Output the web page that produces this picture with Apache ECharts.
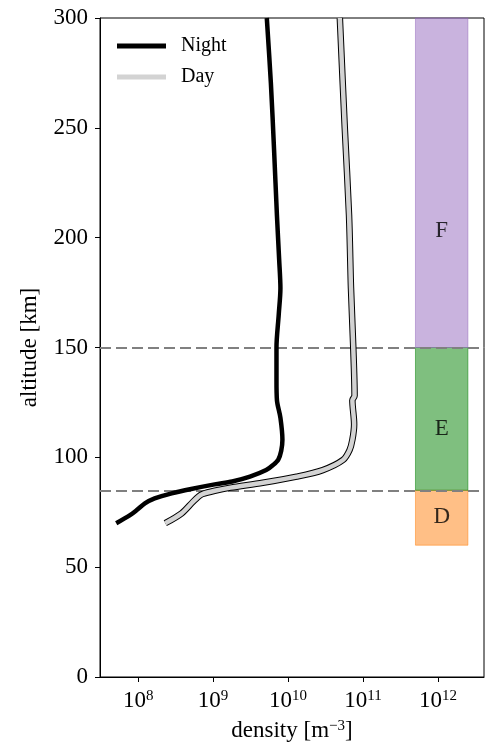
<!DOCTYPE html>
<html><head><meta charset="utf-8">
<script src="https://cdn.jsdelivr.net/npm/echarts@6/dist/echarts.min.js"></script>
<style>html,body{margin:0;padding:0;background:#fff}#c{width:485px;height:747px}</style>
</head><body><div id="c"></div>
<script>
// Night profile
const nightAlt = [300,270,240,210,190,177,165,150,135,126,118,108,103,99,96.5,94.2,91.2,89,87.7,85.6,83.6,81.3,79,76,73.7,70];
const nightDensity = [5.2e9,5.9e9,6.5e9,7.1e9,7.6e9,7.9e9,7.5e9,7.0e9,7.0e9,7.1e9,7.9e9,8.4e9,8.1e9,7.4e9,6.3e9,5.1e9,3.1e9,1.8e9,1.05e9,5.1e8,2.8e8,1.66e8,1.23e8,9.6e7,7.8e7,5.1e7];
// Day profile
const dayAlt = [300,250,210,177,150,128,126,115,108,103.3,98.8,94.2,91.2,88.4,86.2,84.8,83.3,82.2,79.8,74.5,70];
const dayDensity = [4.9e10,5.7e10,6.5e10,6.9e10,7.4e10,7.7e10,7.2e10,7.6e10,7.2e10,6.6e10,5.4e10,2.9e10,1.3e10,4.6e9,1.7e9,1.05e9,7.2e8,6.4e8,5.4e8,3.8e8,2.3e8];
// Ionospheric regions
const regionNames = ['D','E','F'];
const regionBottom = [60,85,150];
const regionTop = [85,150,300];
const regionLabelAlt = [73,113,203];
const regionLeft = 5e11, regionRight = 2.5e12, regionCenter = 1.12e12;
const regionColors = ['rgba(255,127,14,0.5)','rgba(0,128,0,0.5)','rgba(148,103,189,0.5)'];
const boundaryAlt = [85,150];
// Axis ticks
const xTickValues = [1e8,1e9,1e10,1e11,1e12];
const xTickExp = ['8','9','10','11','12'];

const FONT = 'Liberation Serif';
const chart = echarts.init(document.getElementById('c'));
const zip = (xs, ys) => xs.map((x,i)=>[x, ys[i]]);

chart.setOption({
  animation:false,
  backgroundColor:'#fff',
  grid:{left:100,right:1,top:18,bottom:70,show:true,borderColor:'#000',borderWidth:1},
  legend:{
    data:[{name:'Night',icon:'rect'},{name:'Day',icon:'rect'}],
    orient:'vertical', left:117, top:36, padding:0, itemWidth:49, itemHeight:5, itemGap:11,
    textStyle:{fontFamily:FONT,fontSize:20,color:'#000',padding:[0,0,0,10]}
  },
  xAxis:{
    type:'log', logBase:10, min:3.1e7, max:4.1e12,
    axisLine:{show:true,lineStyle:{color:'#000',width:1}},
    splitLine:{show:false}, minorTick:{show:false},
    axisTick:{show:true,inside:false,length:5,lineStyle:{color:'#000'},customValues:xTickValues},
    axisLabel:{customValues:xTickValues,margin:12,color:'#000',
      formatter:function(v){
        let idx = xTickValues.findIndex(t=>Math.abs(t-v)/t<1e-6);
        if(idx<0) return '';
        return '{b|10}{s|'+xTickExp[idx]+'}';
      },
      rich:{b:{fontFamily:FONT,fontSize:23,color:'#000'},s:{fontFamily:FONT,fontSize:15,color:'#000',verticalAlign:'top'}}
    },
    name:'{a|density [m}{s|−3}{a|]}', nameLocation:'middle', nameGap:42,
    nameTextStyle:{rich:{a:{fontFamily:FONT,fontSize:23,color:'#000'},s:{fontFamily:FONT,fontSize:15,color:'#000',verticalAlign:'top'}}}
  },
  yAxis:{
    type:'value', min:0, max:300, interval:50,
    axisLine:{show:true,lineStyle:{color:'#000',width:1}},
    splitLine:{show:false},
    axisTick:{show:true,inside:false,length:5,lineStyle:{color:'#000'}},
    axisLabel:{fontFamily:FONT,fontSize:23,color:'#000',margin:12},
    name:'altitude [km]', nameLocation:'middle', nameGap:59, nameRotate:90,
    nameTextStyle:{fontFamily:FONT,fontSize:23,color:'#000'}
  },
  series:[
    {
      name:'regions', type:'scatter', z:1, silent:true, symbolSize:0,
      data: regionNames.map((n,i)=>({name:n,value:[regionCenter,regionLabelAlt[i]]})),
      label:{show:true,position:'inside',formatter:'{b}',fontFamily:FONT,fontSize:23,color:'#000'},
      markArea:{silent:true,
        data: regionNames.map((n,i)=>[
          {xAxis:regionLeft,yAxis:regionBottom[i],itemStyle:{color:regionColors[i],borderColor:regionColors[i],borderWidth:1}},
          {xAxis:regionRight,yAxis:regionTop[i]}
        ])
      }
    },
    {
      name:'boundaries', type:'line', z:3, data:[], silent:true,
      markLine:{silent:true,symbol:['none','none'],label:{show:false},
        lineStyle:{color:'#808080',type:[11,5],width:2},
        data: boundaryAlt.map(a=>({yAxis:a}))
      }
    },
    {name:'Night',type:'line',z:5,data:zip(nightDensity,nightAlt),showSymbol:false,smooth:0.3,
      color:'#000',lineStyle:{color:'#000',width:4.5}},
    {name:'DayEdge',type:'line',z:6,data:zip(dayDensity,dayAlt),showSymbol:false,smooth:0.3,
      color:'#000',lineStyle:{color:'#000',width:6.5}},
    {name:'Day',type:'line',z:7,data:zip(dayDensity,dayAlt),showSymbol:false,smooth:0.3,
      color:'#d3d3d3',lineStyle:{color:'#d3d3d3',width:4.5}}
  ]
});
</script></body></html>
